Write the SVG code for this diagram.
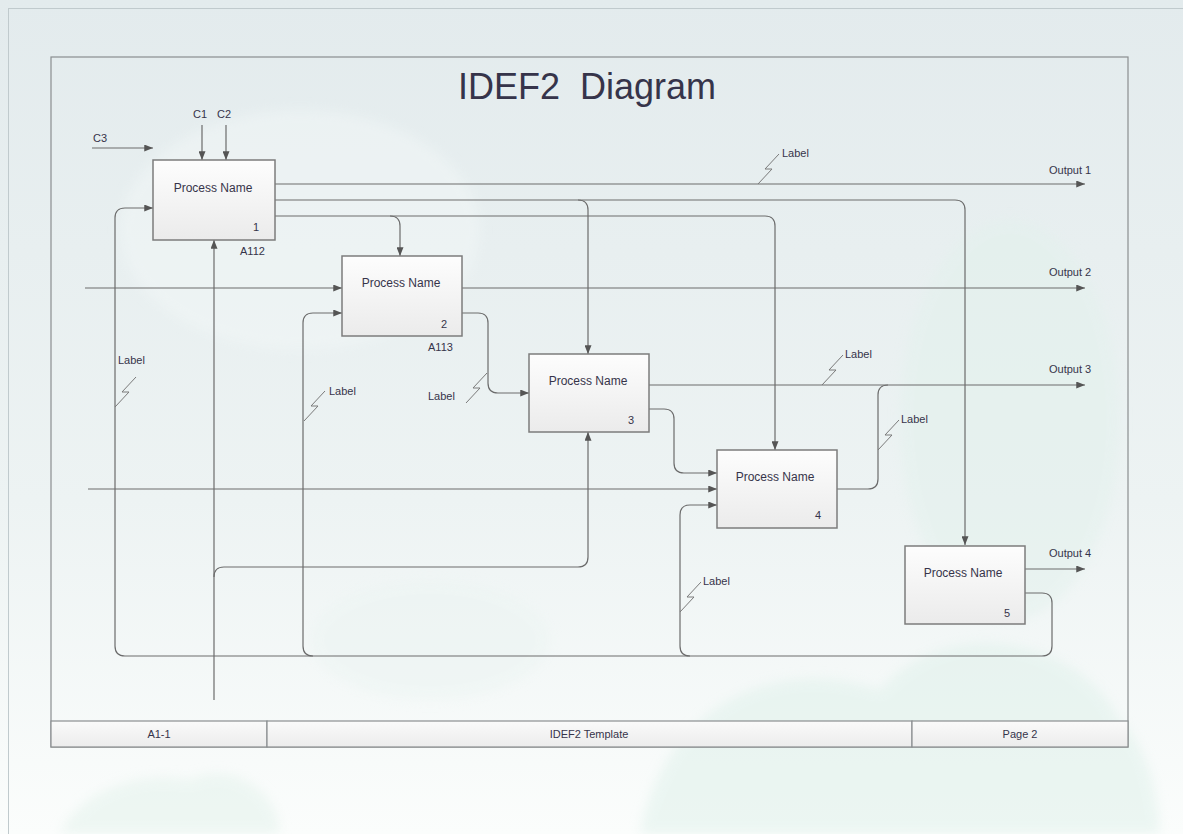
<svg xmlns="http://www.w3.org/2000/svg" width="1183" height="834" viewBox="0 0 1183 834">
  <style>
    .txt { font-family: "Liberation Sans", Arial, sans-serif; fill: #36344a; }
    .small { font-size: 11px; }
    .pname { font-size: 12px; }
    .title { font-size: 36px; }
    .box { fill: url(#boxFill); stroke: #7c7c7c; stroke-width: 1.5; }
    .conn { fill: none; stroke: #6c6c6c; stroke-width: 1.2; }
    .arrow { marker-end: url(#arrowHead); }
    .sq { fill: none; stroke: #7a7a7a; stroke-width: 1; }
    .frame { fill: none; stroke: #8a8e90; stroke-width: 1.2; }
    .cell { fill: url(#cellFill); stroke: #8a8e90; stroke-width: 1.2; }
  </style>
  <defs>
    <linearGradient id="bg" x1="0" y1="0" x2="0" y2="1">
      <stop offset="0" stop-color="#e3ebed"/>
      <stop offset="0.6" stop-color="#edf3f3"/>
      <stop offset="1" stop-color="#fbfdfc"/>
    </linearGradient>
    <linearGradient id="boxFill" x1="0" y1="0" x2="0" y2="1">
      <stop offset="0" stop-color="#fdfdfd"/>
      <stop offset="1" stop-color="#ebebeb"/>
    </linearGradient>
    <linearGradient id="cellFill" x1="0" y1="0" x2="0" y2="1">
      <stop offset="0" stop-color="#fafafa"/>
      <stop offset="1" stop-color="#ececec"/>
    </linearGradient>
    <filter id="soft" x="-20%" y="-20%" width="140%" height="140%">
      <feGaussianBlur stdDeviation="6"/>
    </filter>
    <marker id="arrowHead" viewBox="0 0 10 8" refX="10" refY="4" markerWidth="9" markerHeight="7" markerUnits="userSpaceOnUse" orient="auto">
      <path d="M0,0 L10,4 L0,8 Z" fill="#555"/>
    </marker>
    <!-- squiggle tying a label to its line, drawn from the line end upwards -->
    <path id="squiggle" d="M0,0 L14,-15 L7,-15 L21,-30"/>
  </defs>

  <!-- backdrop -->
  <rect x="0" y="0" width="1183" height="834" fill="url(#bg)"/>
  <g opacity="0.5" filter="url(#soft)">
    <ellipse cx="300" cy="230" rx="180" ry="120" fill="#f2f7f7"/>
    <ellipse cx="1010" cy="420" rx="110" ry="200" fill="#e2f1ec"/>
    <path d="M640,834 C660,720 760,650 880,690 C950,610 1080,640 1120,720 C1160,760 1160,834 1160,834 Z" fill="#ddf0e9"/>
    <path d="M60,834 C80,790 140,770 190,780 C230,760 280,790 280,834 Z" fill="#e1f1ea"/>
    <ellipse cx="430" cy="640" rx="120" ry="60" fill="#ebf4f2"/>
  </g>
  <rect x="8.5" y="8.5" width="1180" height="830" fill="none" stroke="#c0cacd" stroke-width="1"/>

  <!-- sheet frame and footer -->
  <g id="sheet">
    <rect class="frame" x="51" y="57" width="1077" height="690"/>
    <rect class="cell" x="51" y="721" width="216" height="26"/>
    <rect class="cell" x="267" y="721" width="645" height="26"/>
    <rect class="cell" x="912" y="721" width="216" height="26"/>
    <text class="txt small" x="159" y="738" text-anchor="middle">A1-1</text>
    <text class="txt small" x="589" y="738" text-anchor="middle">IDEF2 Template</text>
    <text class="txt small" x="1020" y="738" text-anchor="middle">Page 2</text>
    <text class="txt title" x="587" y="99" text-anchor="middle" xml:space="preserve">IDEF2  Diagram</text>
  </g>

  <!-- connectors -->
  <g id="connectors">
    <path class="conn arrow" d="M202,125 V160"/>
    <path class="conn arrow" d="M226,125 V160"/>
    <path class="conn arrow" d="M92,148 H153"/>
    <path class="conn arrow" d="M275,184 H1085"/>
    <path class="conn arrow" d="M275,200 H955 Q965,200 965,210 V545"/>
    <path class="conn arrow" d="M578,200 Q588,200 588,210 V354"/>
    <path class="conn arrow" d="M275,216 H765 Q775,216 775,226 V450"/>
    <path class="conn arrow" d="M390,216 Q400,216 400,226 V256"/>
    <path class="conn arrow" d="M85,288 H342"/>
    <path class="conn arrow" d="M462,288 H1085"/>
    <path class="conn arrow" d="M462,313 H478 Q488,313 488,323 V383 Q488,393 498,393 H529"/>
    <path class="conn arrow" d="M649,385 H1085"/>
    <path class="conn arrow" d="M649,409 H664 Q674,409 674,419 V463 Q674,473 684,473 H717"/>
    <path class="conn arrow" d="M88,489 H717"/>
    <path class="conn" d="M837,489 H868 Q878,489 878,479 V395 Q878,385 888,385"/>
    <path class="conn arrow" d="M214,700 V240"/>
    <path class="conn arrow" d="M214,577 Q214,567 224,567 H578 Q588,567 588,557 V432"/>
    <path class="conn arrow" d="M1025,569 H1085"/>
    <path class="conn arrow" d="M1025,593 H1042 Q1052,593 1052,603 V646 Q1052,656 1042,656 H125 Q115,656 115,646 V218 Q115,208 125,208 H153"/>
    <path class="conn arrow" d="M313,656 Q303,656 303,646 V323 Q303,313 313,313 H342"/>
    <path class="conn arrow" d="M690,656 Q680,656 680,646 V515 Q680,505 690,505 H717"/>

    <!-- port labels -->
    <text class="txt small" x="193" y="118">C1</text>
    <text class="txt small" x="217" y="118">C2</text>
    <text class="txt small" x="93" y="142">C3</text>
    <text class="txt small" x="1049" y="174">Output 1</text>
    <text class="txt small" x="1049" y="276">Output 2</text>
    <text class="txt small" x="1049" y="373">Output 3</text>
    <text class="txt small" x="1049" y="557">Output 4</text>

    <!-- squiggle labels -->
    <use href="#squiggle" class="sq" x="758" y="184"/>
    <text class="txt small" x="782" y="157">Label</text>
    <use href="#squiggle" class="sq" x="115" y="407"/>
    <text class="txt small" x="118" y="364">Label</text>
    <use href="#squiggle" class="sq" x="304" y="421"/>
    <text class="txt small" x="329" y="395">Label</text>
    <use href="#squiggle" class="sq" x="466" y="403"/>
    <text class="txt small" x="428" y="400">Label</text>
    <use href="#squiggle" class="sq" x="822" y="385"/>
    <text class="txt small" x="845" y="358">Label</text>
    <use href="#squiggle" class="sq" x="878" y="450"/>
    <text class="txt small" x="901" y="423">Label</text>
    <use href="#squiggle" class="sq" x="680" y="612"/>
    <text class="txt small" x="703" y="585">Label</text>
  </g>

  <!-- process boxes -->
  <g id="process1">
    <rect class="box" x="153" y="160" width="122" height="80"/>
    <text class="txt pname" x="213" y="192" text-anchor="middle">Process Name</text>
    <text class="txt small" x="259" y="231" text-anchor="end">1</text>
    <text class="txt small" x="240" y="255">A112</text>
  </g>
  <g id="process2">
    <rect class="box" x="342" y="256" width="120" height="80"/>
    <text class="txt pname" x="401" y="287" text-anchor="middle">Process Name</text>
    <text class="txt small" x="447" y="328" text-anchor="end">2</text>
    <text class="txt small" x="428" y="351">A113</text>
  </g>
  <g id="process3">
    <rect class="box" x="529" y="354" width="120" height="78"/>
    <text class="txt pname" x="588" y="385" text-anchor="middle">Process Name</text>
    <text class="txt small" x="634" y="424" text-anchor="end">3</text>
  </g>
  <g id="process4">
    <rect class="box" x="717" y="450" width="120" height="78"/>
    <text class="txt pname" x="775" y="481" text-anchor="middle">Process Name</text>
    <text class="txt small" x="821" y="519" text-anchor="end">4</text>
  </g>
  <g id="process5">
    <rect class="box" x="905" y="546" width="120" height="78"/>
    <text class="txt pname" x="963" y="577" text-anchor="middle">Process Name</text>
    <text class="txt small" x="1010" y="617" text-anchor="end">5</text>
  </g>
</svg>
